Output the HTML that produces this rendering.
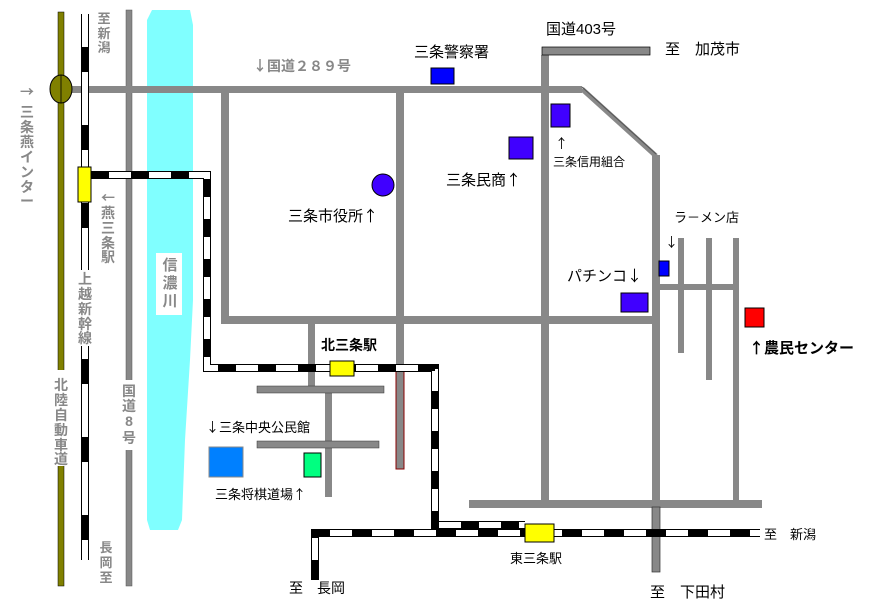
<!DOCTYPE html>
<html><head><meta charset="utf-8"><style>
body{margin:0;background:#fff}
svg{display:block}
text{font-family:"Liberation Sans","Noto Sans CJK JP",sans-serif}
.a{font-family:"Noto Sans CJK JP",sans-serif}
.g{fill:#888;font-size:14px;font-weight:bold}
.k{fill:#000;font-size:15px}
</style></head><body>
<svg width="892" height="603" viewBox="0 0 892 603" xmlns="http://www.w3.org/2000/svg">
<path d="M150,14 L152,10 L190,10 L193,25 L193,300 L190,360 L185,440 L182,520 L178,530 L150,530 L147,520 L147,20 Z" fill="#80ffff"/>
<rect x="58" y="12" width="6" height="574" fill="#808000" stroke="#000" stroke-width="0.5"/>
<rect x="126" y="10" width="6" height="576" fill="#888" stroke="#555" stroke-width="0.5"/>
<g fill="#888">
<rect x="70" y="86" width="512" height="7"/>
<rect x="221" y="93" width="8" height="230"/>
<rect x="221" y="316" width="434" height="8"/>
<rect x="396" y="93" width="8" height="272"/>
<rect x="541" y="55" width="8" height="449"/>
<rect x="652" y="155" width="8" height="350"/>
<rect x="469" y="500" width="293" height="8"/>
<rect x="733" y="238" width="6" height="266"/>
<rect x="678" y="238" width="6" height="115"/>
<rect x="706" y="238" width="6" height="142"/>
<rect x="658" y="284" width="78" height="6"/>
<rect x="308" y="324" width="7" height="64"/>
<rect x="325" y="393" width="7" height="104"/>
</g>
<rect x="542" y="47" width="108" height="8" fill="#888" stroke="#000" stroke-width="0.7"/>
<line x1="582" y1="89" x2="656" y2="156" stroke="#888" stroke-width="5"/>
<line x1="582" y1="87" x2="656" y2="154" stroke="#555" stroke-width="1"/>
<rect x="396" y="365" width="8" height="104" fill="#888" stroke="#800" stroke-width="1"/>
<rect x="257" y="386" width="127" height="7" fill="#888" stroke="#333" stroke-width="0.5"/>
<rect x="257" y="441" width="122" height="7" fill="#888" stroke="#333" stroke-width="0.5"/>
<rect x="652" y="507" width="8" height="65" fill="#888" stroke="#333" stroke-width="0.7"/>
<g fill="none">
<path d="M85,14 V560" stroke="#000" stroke-width="8"/>
<path d="M85,14 V560" stroke="#fff" stroke-width="6"/>
<path d="M85,14 V560" stroke="#000" stroke-width="6" stroke-dasharray="0,33 25,20 0,0"/>
<path d="M91,175 H207 V368 H435 V525 H525" stroke="#000" stroke-width="8"/>
<path d="M91,175 H207 V368 H435 V525 H525" stroke="#fff" stroke-width="6"/>
<path d="M91,175 H207 V368 H435 V525 H525" stroke="#000" stroke-width="6" stroke-dasharray="18,22"/>
<path d="M315,580 V533 H760" stroke="#000" stroke-width="8"/>
<path d="M315,580 V533 H760" stroke="#fff" stroke-width="6"/>
<path d="M315,580 V533 H760" stroke="#000" stroke-width="6" stroke-dasharray="20,22"/>
</g>
<ellipse cx="61" cy="89" rx="11" ry="14" fill="#808000" stroke="#000" stroke-width="1"/>
<line x1="61" y1="75" x2="61" y2="103" stroke="#000" stroke-width="0.8"/>
<rect x="78" y="167" width="13" height="35" fill="#ff0" stroke="#000"/>
<rect x="330" y="361" width="24" height="15" fill="#ff0" stroke="#000"/>
<rect x="525" y="524" width="29" height="18" fill="#ff0" stroke="#000"/>
<rect x="431" y="68" width="23" height="16" fill="#0000ff" stroke="#000"/>
<rect x="551" y="104" width="19" height="23" fill="#4000ff" stroke="#000"/>
<rect x="509" y="137" width="24" height="22" fill="#4000ff" stroke="#000"/>
<circle cx="383" cy="185" r="11" fill="#4000ff" stroke="#000"/>
<rect x="659" y="261" width="10" height="15" fill="#0000ff" stroke="#000"/>
<rect x="621" y="293" width="27" height="19" fill="#4000ff" stroke="#000"/>
<rect x="745" y="308" width="19" height="19" fill="#ff0000" stroke="#000"/>
<rect x="209" y="447" width="34" height="30" fill="#0080ff" stroke="#888"/>
<rect x="304" y="453" width="17" height="24" fill="#00ff80" stroke="#000"/>
<g fill="#fff">
<rect x="156" y="253" width="26" height="62"/>
<rect x="76" y="270" width="18" height="76"/>
<rect x="52" y="370" width="18" height="96"/>
<rect x="122" y="380" width="16" height="70"/>
</g>
<g class="g" text-anchor="middle">
<text x="104" y="23" font-size="13">至</text><text x="104" y="38" font-size="13">新</text><text x="104" y="52" font-size="13">潟</text>
<text x="27" y="97" class="a">→</text><text x="27" y="117">三</text><text x="27" y="132">条</text><text x="27" y="147">燕</text><text x="27" y="162">イ</text><text x="27" y="177">ン</text><text x="27" y="192">タ</text><text x="27" y="206">ー</text>
<text x="108" y="203" class="a">←</text><text x="108" y="218">燕</text><text x="108" y="233">三</text><text x="108" y="248">条</text><text x="108" y="262">駅</text>
<text x="170" y="270" font-size="15">信</text><text x="170" y="288" font-size="15">濃</text><text x="170" y="306" font-size="15">川</text>
<text x="85" y="284">上</text><text x="85" y="299">越</text><text x="85" y="314">新</text><text x="85" y="329">幹</text><text x="85" y="343">線</text>
<text x="61" y="390">北</text><text x="61" y="405">陸</text><text x="61" y="420">自</text><text x="61" y="435">動</text><text x="61" y="450">車</text><text x="61" y="464">道</text>
<text x="129" y="396">国</text><text x="129" y="411">道</text><text x="129" y="426">8</text><text x="129" y="443">号</text>
<text x="106" y="552" font-size="13">長</text><text x="106" y="567" font-size="13">岡</text><text x="106" y="582" font-size="13">至</text>
</g>
<text x="253" y="71" class="g"><tspan class="a">↓</tspan>国道２８９号</text>
<g class="k">
<text x="414" y="57">三条警察署</text>
<text x="546" y="34">国道403号</text>
<text x="665" y="54">至　加茂市</text>
<text x="555" y="148" font-size="13" class="a">↑</text>
<text x="553" y="166" font-size="12">三条信用組合</text>
<text x="446" y="185">三条民商<tspan class="a">↑</tspan></text>
<text x="288" y="221">三条市役所<tspan class="a">↑</tspan></text>
<text x="674" y="222" font-size="13">ラ－メン店</text>
<text x="665" y="247" font-size="13" class="a">↓</text>
<text x="567" y="281">パチンコ<tspan class="a">↓</tspan></text>
<text x="749" y="353" font-weight="bold"><tspan class="a">↑</tspan>農民センター</text>
<text x="321" y="350" font-size="14" font-weight="bold">北三条駅</text>
<text x="206" y="432" font-size="13"><tspan class="a">↓</tspan>三条中央公民館</text>
<text x="215" y="499" font-size="13">三条将棋道場<tspan class="a">↑</tspan></text>
<text x="764" y="539" font-size="13">至　新潟</text>
<text x="510" y="563" font-size="13">東三条駅</text>
<text x="289" y="593" font-size="14">至　長岡</text>
<text x="650" y="597">至　下田村</text>
</g>
</svg>
</body></html>
